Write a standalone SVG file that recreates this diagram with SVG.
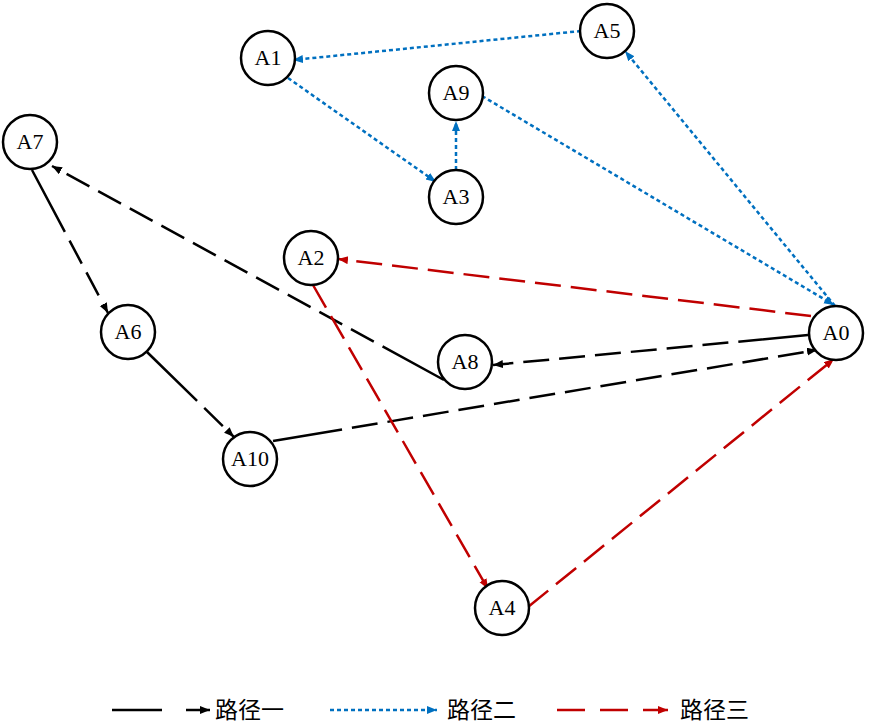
<svg xmlns="http://www.w3.org/2000/svg" width="869" height="724" viewBox="0 0 869 724">
<style>
.n circle{fill:#fff;stroke:#000;stroke-width:2.5}
.n text{font-family:"Liberation Serif","Noto Sans CJK SC",serif;font-size:22px;text-anchor:middle;fill:#000}
.k{fill:none;stroke:#000;stroke-width:2.5;stroke-dasharray:70 10 26 10 26 10 26 10 26 10 26 10 26 10 26 10 26 10 26 10 26 10 26 10 26 10 26 10 26 10 26 10 26 10 26 10;marker-end:url(#ak)}
.b{fill:none;stroke:#0070c0;stroke-width:2.5;stroke-dasharray:4 3;marker-end:url(#ab)}
.r{fill:none;stroke:#c00000;stroke-width:2.5;stroke-dasharray:26 10;marker-end:url(#ar)}
.lg{font-family:"Noto Sans CJK SC",sans-serif;font-size:23px;fill:#000;dominant-baseline:central}
</style>
<defs>
<marker id="ak" markerUnits="userSpaceOnUse" markerWidth="12" markerHeight="10" refX="10" refY="4" orient="auto"><path d="M0,0 L10,4 L0,8 Z" fill="#000"/></marker>
<marker id="ab" markerUnits="userSpaceOnUse" markerWidth="12" markerHeight="10" refX="10" refY="4" orient="auto"><path d="M0,0 L10,4 L0,8 Z" fill="#0070c0"/></marker>
<marker id="ar" markerUnits="userSpaceOnUse" markerWidth="12" markerHeight="10" refX="10" refY="4" orient="auto"><path d="M0,0 L10,4 L0,8 Z" fill="#c00000"/></marker>
</defs>
<g id="connectors">
<line class="k" x1="808" y1="335" x2="493" y2="365"/>
<line class="k" x1="444" y1="380" x2="52" y2="166"/>
<line class="k" x1="32" y1="170" x2="108" y2="313"/>
<line class="k" x1="147" y1="352" x2="234" y2="437"/>
<line class="k" x1="273" y1="441" x2="817" y2="350"/>
<line class="b" x1="835" y1="306" x2="625" y2="51"/>
<line class="b" x1="482" y1="96" x2="834" y2="305"/>
<line class="b" x1="581" y1="31" x2="293" y2="60"/>
<line class="b" x1="288" y1="78" x2="436" y2="182"/>
<line class="b" x1="456" y1="170" x2="456" y2="121"/>
<line class="r" x1="811" y1="316" x2="338" y2="259"/>
<line class="r" x1="313" y1="285" x2="488" y2="589"/>
<line class="r" x1="528" y1="607" x2="834" y2="359"/>
</g>
<g id="A1" class="n"><circle cx="268" cy="58" r="27"/><text x="268" y="65">A1</text></g>
<g id="A5" class="n"><circle cx="607" cy="31" r="27"/><text x="607" y="38">A5</text></g>
<g id="A9" class="n"><circle cx="456" cy="93" r="27"/><text x="456" y="100">A9</text></g>
<g id="A3" class="n"><circle cx="456" cy="197" r="27"/><text x="456" y="204">A3</text></g>
<g id="A7" class="n"><circle cx="30" cy="142" r="27"/><text x="30" y="149">A7</text></g>
<g id="A2" class="n"><circle cx="311" cy="258" r="27"/><text x="311" y="265">A2</text></g>
<g id="A6" class="n"><circle cx="128" cy="332" r="27"/><text x="128" y="339">A6</text></g>
<g id="A8" class="n"><circle cx="465" cy="362" r="27"/><text x="465" y="369">A8</text></g>
<g id="A0" class="n"><circle cx="836" cy="333" r="27"/><text x="836" y="340">A0</text></g>
<g id="A10" class="n"><circle cx="250" cy="459" r="27"/><text x="250" y="466">A10</text></g>
<g id="A4" class="n"><circle cx="502" cy="608" r="27"/><text x="502" y="615">A4</text></g>
<g id="legend">
<line x1="112" y1="710" x2="162" y2="710" stroke="#000" stroke-width="2.5"/>
<line x1="186" y1="710" x2="210" y2="710" stroke="#000" stroke-width="2.5" marker-end="url(#ak)"/>
<text class="lg" x="215" y="708">路径一</text>
<line x1="330" y1="710" x2="437" y2="710" stroke="#0070c0" stroke-width="2.5" stroke-dasharray="4 3" marker-end="url(#ab)"/>
<text class="lg" x="447" y="708">路径二</text>
<line x1="557" y1="710" x2="668" y2="710" stroke="#c00000" stroke-width="2.5" stroke-dasharray="28 15" marker-end="url(#ar)"/>
<text class="lg" x="680" y="708">路径三</text>
</g>
</svg>
